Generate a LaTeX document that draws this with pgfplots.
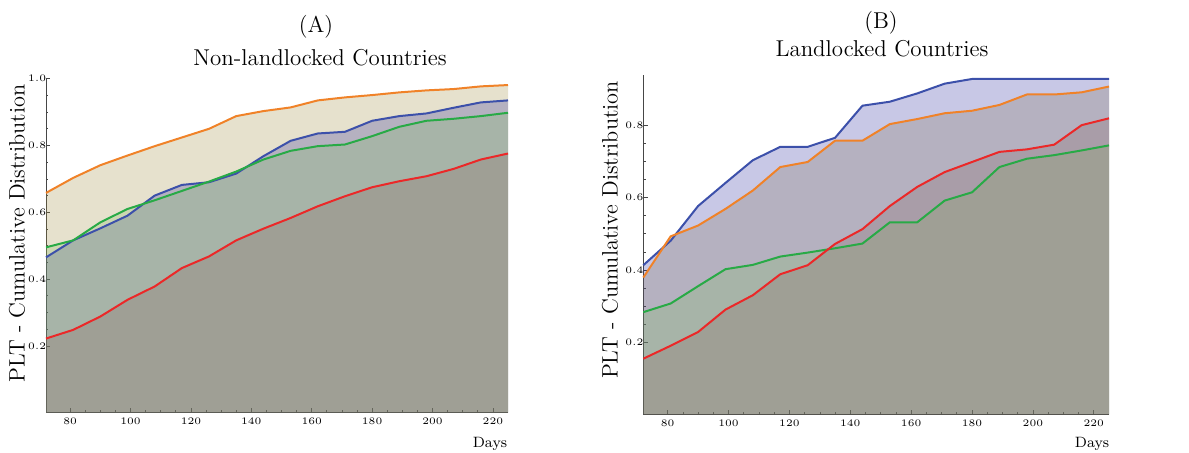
\documentclass[border=0pt]{standalone}
\usepackage{pgfplots}
\usepackage{pgfplotstable}
\pgfplotsset{compat=1.18}

\definecolor{lnO}{RGB}{240,130,40}
\definecolor{lnB}{RGB}{60,80,170}
\definecolor{lnG}{RGB}{40,170,70}
\definecolor{lnR}{RGB}{235,40,40}
\definecolor{fO}{RGB}{155,135,55}
\definecolor{fB}{RGB}{35,35,155}
\definecolor{fG}{RGB}{129,189,96}
\definecolor{fR}{RGB}{136,100,96}
\definecolor{axc}{RGB}{70,70,70}

\pgfplotstableread{
day orange blue green red
72  0.658 0.465 0.495 0.222
81  0.703 0.516 0.516 0.248
90  0.741 0.552 0.570 0.288
99  0.770 0.590 0.610 0.338
108 0.798 0.650 0.636 0.378
117 0.824 0.682 0.664 0.433
126 0.850 0.690 0.692 0.468
135 0.888 0.716 0.722 0.516
144 0.903 0.768 0.758 0.551
153 0.914 0.814 0.784 0.583
162 0.935 0.836 0.798 0.618
171 0.944 0.841 0.803 0.648
180 0.951 0.874 0.828 0.675
189 0.959 0.888 0.856 0.693
198 0.965 0.896 0.874 0.708
207 0.969 0.913 0.880 0.730
216 0.977 0.929 0.888 0.758
225 0.981 0.935 0.898 0.776
}\tableA

\pgfplotstableread{
day orange blue green red
72  0.379 0.413 0.283 0.154
81  0.493 0.481 0.307 0.190
90  0.523 0.577 0.355 0.228
99  0.569 0.641 0.402 0.290
108 0.620 0.704 0.414 0.330
117 0.685 0.741 0.437 0.388
126 0.699 0.741 0.448 0.413
135 0.758 0.766 0.460 0.472
144 0.758 0.855 0.473 0.513
153 0.804 0.866 0.532 0.577
162 0.818 0.889 0.532 0.630
171 0.834 0.916 0.592 0.671
180 0.841 0.929 0.615 0.699
189 0.857 0.929 0.685 0.727
198 0.886 0.929 0.708 0.734
207 0.886 0.929 0.718 0.747
216 0.892 0.929 0.731 0.801
225 0.908 0.929 0.745 0.820
}\tableB

\pgfplotsset{
  cdfstyle/.style={
    scale only axis,
    xmin=72, xmax=225, ymin=0,
    axis x line=bottom, axis y line=left,
    axis line style={axc, line width=0.4bp, -},
    xtick={80,100,...,220},
    minor x tick num=3,
    minor y tick num=3,
    tick align=inside,
    major tick length=2.2bp,
    minor tick length=1.2bp,
    tick style={axc, line width=0.35bp},
    ticklabel style={font=\fontsize{4.6}{5.5}\selectfont, text=black},
    yticklabel style={/pgf/number format/fixed, /pgf/number format/fixed zerofill, /pgf/number format/precision=1, inner sep=0.5bp, xshift=0.8bp},
    xticklabel style={inner sep=1bp, yshift=-1.5bp},
    clip=false,
  },
  fillser/.style={draw=none, fill=#1, fill opacity=0.25},
  lineser/.style={draw=#1, line width=1bp, line join=round},
}

\begin{document}
\begin{tikzpicture}
\path[use as bounding box] (0,0) rectangle (594.5bp,226.5bp);

% Panel A
\begin{axis}[cdfstyle, at={(23bp,20.15bp)}, anchor=south west,
  width=231bp, height=167bp, ymax=1.0,
  ytick={0.2,0.4,0.6,0.8,1.0}]
  \addplot[fillser=fO] table[x=day,y=orange]{\tableA} \closedcycle;
  \addplot[fillser=fB] table[x=day,y=blue]{\tableA} \closedcycle;
  \addplot[fillser=fG] table[x=day,y=green]{\tableA} \closedcycle;
  \addplot[fillser=fR] table[x=day,y=red]{\tableA} \closedcycle;
  \addplot[lineser=lnO] table[x=day,y=orange]{\tableA};
  \addplot[lineser=lnB] table[x=day,y=blue]{\tableA};
  \addplot[lineser=lnG] table[x=day,y=green]{\tableA};
  \addplot[lineser=lnR] table[x=day,y=red]{\tableA};
\end{axis}

% Panel B
\begin{axis}[cdfstyle, at={(321.65bp,19.35bp)}, anchor=south west,
  width=232.85bp, height=169.65bp, ymax=0.94,
  ytick={0.2,0.4,0.6,0.8}]
  \addplot[fillser=fO] table[x=day,y=orange]{\tableB} \closedcycle;
  \addplot[fillser=fB] table[x=day,y=blue]{\tableB} \closedcycle;
  \addplot[fillser=fG] table[x=day,y=green]{\tableB} \closedcycle;
  \addplot[fillser=fR] table[x=day,y=red]{\tableB} \closedcycle;
  \addplot[lineser=lnB] table[x=day,y=blue]{\tableB};
  \addplot[lineser=lnO] table[x=day,y=orange]{\tableB};
  \addplot[lineser=lnG] table[x=day,y=green]{\tableB};
  \addplot[lineser=lnR] table[x=day,y=red]{\tableB};
\end{axis}

% Titles and labels
\node[anchor=base, font=\fontsize{11.5}{13}\selectfont] at (158bp,210bp) {(A)};
\node[anchor=base, font=\fontsize{11.5}{13}\selectfont] at (160bp,193.5bp) {Non-landlocked Countries};
\node[anchor=base, font=\fontsize{11.5}{13}\selectfont] at (440.5bp,212bp) {(B)};
\node[anchor=base, font=\fontsize{11.5}{13}\selectfont] at (441bp,198bp) {Landlocked Countries};
\node[rotate=90, font=\fontsize{11.2}{13}\selectfont] at (8.5bp,109.75bp) {PLT - Cumulative Distribution};
\node[rotate=90, font=\fontsize{11.2}{13}\selectfont] at (305bp,111.5bp) {PLT - Cumulative Distribution};
\node[anchor=base, font=\fontsize{7.5}{9}\selectfont] at (245bp,2.7bp) {Days};
\node[anchor=base, font=\fontsize{7.5}{9}\selectfont] at (546bp,2.7bp) {Days};
\end{tikzpicture}
\end{document}
